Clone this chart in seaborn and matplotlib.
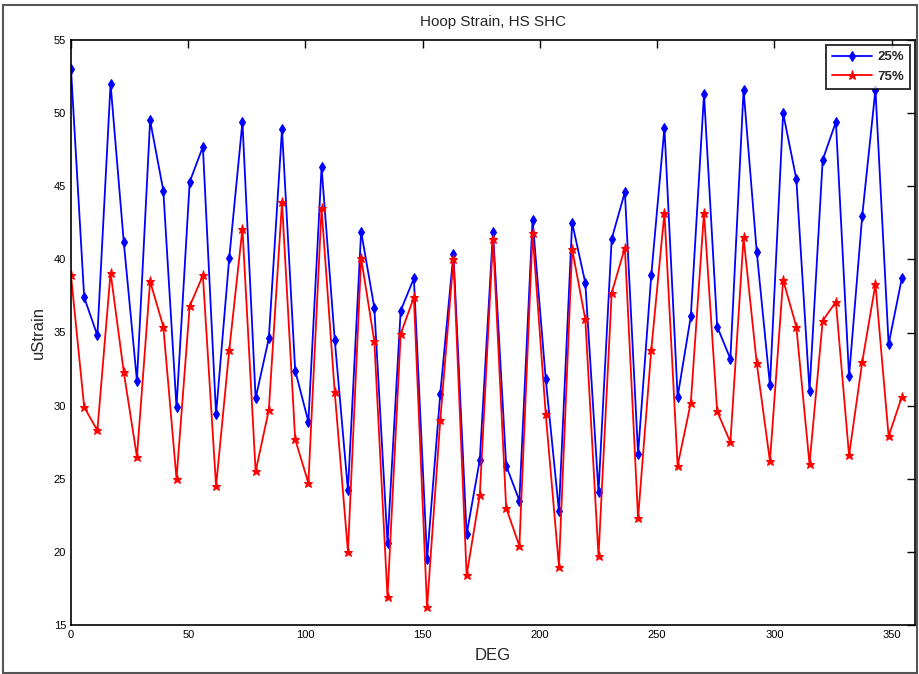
import numpy as np
import pandas as pd
import seaborn as sns
import matplotlib.pyplot as plt
from matplotlib.patches import Rectangle

# angle step between gauges
deg_step = 5.625
n_pts = 64

strain_25 = [53.0, 37.4, 34.8, 52.0, 41.2, 31.7, 49.5, 44.7, 29.9, 45.3,
             47.7, 29.4, 40.1, 49.4, 30.5, 34.6, 48.9, 32.4, 28.9, 46.3,
             34.5, 24.2, 41.9, 36.7, 20.6, 36.5, 38.7, 19.5, 30.8, 40.4,
             21.2, 26.3, 41.9, 25.9, 23.5, 42.7, 31.8, 22.8, 42.5, 38.4,
             24.1, 41.4, 44.6, 26.7, 38.9, 49.0, 30.6, 36.1, 51.3, 35.4,
             33.2, 51.6, 40.5, 31.4, 50.0, 45.5, 31.0, 46.8, 49.4, 32.0,
             43.0, 51.6, 34.2, 38.7]

strain_75 = [38.9, 29.9, 28.3, 39.1, 32.3, 26.5, 38.5, 35.4, 25.0, 36.8,
             38.9, 24.5, 33.8, 42.1, 25.5, 29.7, 43.9, 27.7, 24.7, 43.5,
             30.9, 20.0, 40.1, 34.4, 16.9, 34.9, 37.4, 16.2, 29.0, 40.0,
             18.4, 23.9, 41.4, 23.0, 20.4, 41.8, 29.4, 19.0, 40.7, 35.9,
             19.7, 37.7, 40.8, 22.3, 33.8, 43.2, 25.9, 30.2, 43.2, 29.6,
             27.5, 41.5, 32.9, 26.2, 38.6, 35.4, 26.0, 35.8, 37.1, 26.6,
             33.0, 38.3, 27.9, 30.6]

deg = np.arange(n_pts) * deg_step

df = pd.DataFrame({'DEG': deg, '25%': strain_25, '75%': strain_75})

sns.set_style("white")
plt.rcParams['font.family'] = ['Liberation Sans', 'DejaVu Sans']

fig = plt.figure(figsize=(9.2, 6.74), dpi=100)
ax = fig.add_axes([71/920, 49/674, (915-71)/920, (625-40)/674])

sns.lineplot(data=df, x='DEG', y='25%', color='#0000ff', marker='d',
             markersize=5, markeredgecolor='#0000ff', linewidth=1.3,
             label='25%', ax=ax)
sns.lineplot(data=df, x='DEG', y='75%', color='#ff0000', marker='*',
             markersize=6.5, markeredgecolor='#ff0000', linewidth=1.3,
             label='75%', ax=ax)

ax.set_xlim(0, 360)
ax.set_ylim(15, 55)
ax.set_xticks(np.arange(0, 351, 50))
ax.set_yticks(np.arange(15, 56, 5))
ax.tick_params(direction='in', length=6, width=1, top=True, right=True,
               labelsize=8, colors='black')
for s in ax.spines.values():
    s.set_color('black')
    s.set_linewidth(1.2)

ax.set_xlabel('DEG', fontsize=12, labelpad=6)
ax.set_ylabel('uStrain', fontsize=12, labelpad=6)
ax.set_title('Hoop Strain, HS SHC', fontsize=11, pad=10)

leg = ax.legend(loc='upper right', fontsize=9.5, frameon=True, fancybox=False,
                borderpad=0.45, handlelength=3.0, labelspacing=0.55,
                handletextpad=0.4, borderaxespad=0.4)
leg.get_frame().set_edgecolor('black')
leg.get_frame().set_linewidth(1.4)
for t in leg.get_texts():
    t.set_fontweight('bold')

# outer picture frame
fig.patches.append(Rectangle((3/920, 1/674), 914/920, 668/674,
                             transform=fig.transFigure, fill=False,
                             edgecolor='#555555', linewidth=1.5))

fig.savefig('out.png', dpi=100)
